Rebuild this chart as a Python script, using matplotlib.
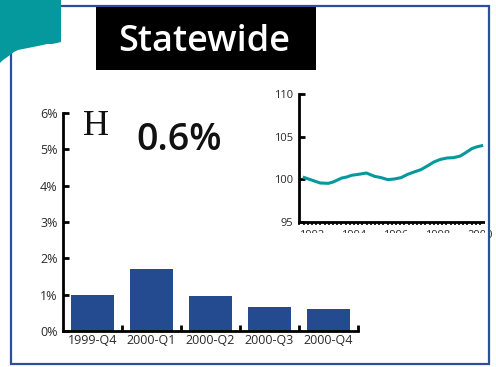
import matplotlib
matplotlib.use("Agg")
import matplotlib.pyplot as plt
from matplotlib.patches import Rectangle, Polygon

W, H = 496, 367

# quarterly growth, statewide
quarters = ["1999-Q4", "2000-Q1", "2000-Q2", "2000-Q3", "2000-Q4"]
growth = [1.0, 1.7, 0.95, 0.65, 0.6]
latest_label = "0.6%"

# index series for the small chart
idx_years = [1991.56, 1992.0, 1992.39, 1992.78, 1993.02, 1993.41, 1993.65, 1993.88,
             1994.2, 1994.59, 1994.98, 1995.29, 1995.61, 1995.92, 1996.24, 1996.55,
             1996.86, 1997.18, 1997.49, 1997.8, 1998.12, 1998.43, 1998.74, 1999.06,
             1999.29, 1999.61, 1999.84, 2000.15]
idx_values = [100.27, 99.9, 99.57, 99.53, 99.7, 100.15, 100.27, 100.47,
              100.58, 100.74, 100.35, 100.2, 99.96, 100.04, 100.2, 100.58,
              100.86, 101.13, 101.56, 102.03, 102.34, 102.5, 102.54, 102.73,
              103.08, 103.6, 103.8, 103.98]
idx_ticks = [95, 100, 105, 110]
year_ticks = [1992, 1994, 1996, 1998, 2000]

TEAL = "#05999d"
NAVY = "#244a8f"
BORDER = "#2c4f9c"
TXT = "#2a2a2a"


def box(x0, y0, x1, y1):
    # pixel box (top-left origin) -> figure fraction [l, b, w, h]
    return [x0 / W, 1 - y1 / H, (x1 - x0) / W, (y1 - y0) / H]


def pt(x, y):
    return (x / W, 1 - y / H)


fig = plt.figure(figsize=(W / 100, H / 100), dpi=100)

# frame and corner tab
fig.patches.append(Rectangle(pt(11, 364), 478 / W, 358 / H, transform=fig.transFigure,
                             fill=False, edgecolor=BORDER, linewidth=1.6, zorder=1))
tab = [(0, 0), (61, 0), (61, 42), (57, 43), (52, 44), (47, 44), (43, 45), (38, 46),
       (33, 47), (28, 48), (23, 49), (18, 50), (14, 52), (10, 55), (6, 58), (3, 60), (0, 63)]
fig.patches.append(Polygon([pt(x, y) for x, y in tab], closed=True, transform=fig.transFigure,
                           facecolor=TEAL, edgecolor="none", zorder=2))

# title block
fig.patches.append(Rectangle(pt(96, 70), 220 / W, 63 / H, transform=fig.transFigure,
                             facecolor="black", edgecolor="none", zorder=2))
fig.text(*pt(204, 42), "Statewide", color="white", fontsize=26, fontweight="semibold",
         family="Open Sans", ha="center", va="center", zorder=3)

# bar chart
ax = fig.add_axes(box(63, 113, 358, 331))
x = list(range(len(quarters)))
ax.bar(x, growth, width=0.73, color=NAVY, zorder=2)
ax.set_xlim(-0.5, len(quarters) - 0.5)
ax.set_ylim(0, 6)
ax.set_yticks(range(7))
ax.set_yticklabels([f"{v}%" for v in range(7)])
ax.set_xticks([i + 0.5 for i in x])
ax.set_xticklabels([])
ax.set_xticks(x, minor=True)
ax.set_xticklabels(quarters, minor=True)
for s in ["top", "right"]:
    ax.spines[s].set_visible(False)
for s in ["left", "bottom"]:
    ax.spines[s].set_linewidth(2)
ax.tick_params(axis="both", which="major", direction="in", length=4, width=2, colors="black")
ax.tick_params(axis="y", labelsize=9, labelcolor=TXT, pad=4)
ax.tick_params(axis="x", which="minor", length=0, labelsize=9, labelcolor=TXT, pad=2)
for lab in ax.get_yticklabels() + ax.get_xticklabels(minor=True):
    lab.set_family("Open Sans")

fig.text(*pt(83, 135), "H", family="Liberation Serif", fontsize=26, color="#111111",
         ha="left", va="baseline")
fig.text(*pt(136, 150), latest_label, family="Open Sans", fontweight="semibold", fontsize=27,
         color="#111111", ha="left", va="baseline")

# index line chart
ax2 = fig.add_axes(box(299, 94, 484, 222))
ax2.plot(idx_years, idx_values, color=TEAL, linewidth=2.2, solid_capstyle="butt")
ax2.set_xlim(1991.38, 2000.19)
ax2.set_ylim(95, 110)
ax2.set_yticks(idx_ticks)
ax2.set_xticks(year_ticks)
ax2.set_xticks([1991.4 + 0.2 * i for i in range(44)], minor=True)
for s in ["top", "right"]:
    ax2.spines[s].set_visible(False)
for s in ["left", "bottom"]:
    ax2.spines[s].set_linewidth(2)
ax2.tick_params(axis="y", direction="in", length=4, width=2, labelsize=8, labelcolor=TXT, pad=4)
ax2.tick_params(axis="x", which="both", direction="out", length=2, width=1.2,
                labelsize=8, labelcolor=TXT, pad=4)
ax2.patch.set_alpha(0)
for lab in ax2.get_xticklabels() + ax2.get_yticklabels():
    lab.set_family("Open Sans")

# the small chart is cut off just under its axis and at its right edge
ax2.add_patch(Rectangle(pt(280, 250), 210 / W, 17 / H, transform=fig.transFigure,
                        facecolor="white", edgecolor="none", clip_on=False, zorder=5))
ax2.add_patch(Rectangle(pt(485, 245), 3 / W, 25 / H, transform=fig.transFigure,
                        facecolor="white", edgecolor="none", clip_on=False, zorder=5))

fig.savefig("out.png", dpi=100)
